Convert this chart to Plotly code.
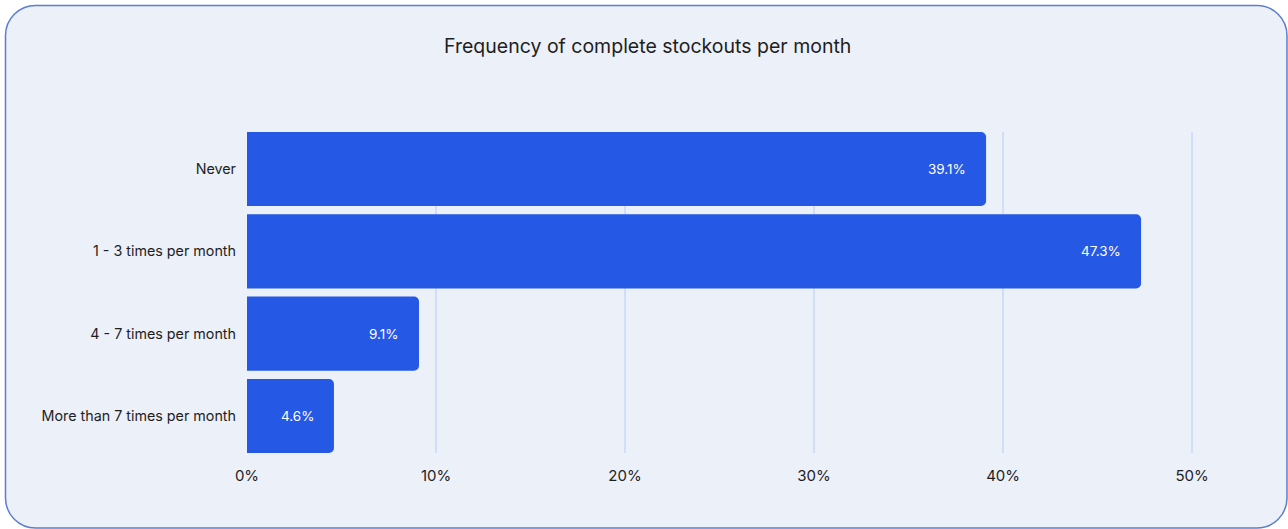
import plotly.graph_objects as go

# Survey responses: how often a complete stockout happens each month
categories = ["Never", "1 - 3 times per month", "4 - 7 times per month", "More than 7 times per month"]
shares = [39.1, 47.3, 9.1, 4.6]
tick_values = [0, 10, 20, 30, 40, 50]
tick_labels = ["0%", "10%", "20%", "30%", "40%", "50%"]
title_text = "Frequency of complete stockouts per month"

W, H = 1288, 529
L, R, T, B = 247, 94, 132, 76
PW, PH = W - L - R, H - T - B
X_MAX = 50.1  # a hair past 50 so the last gridline is drawn

BAR = "#2558E5"
CARD = "#ECF0F9"
EDGE = "#5B7ED0"
GRID = "#D0DEF8"
INK = "#1E1E1E"
FONT = "Inter"


def px(x):
    return (x - L) / PW


def py(y):
    return (H - B - y) / PH


def card_path(x0, y0, x1, y1, r):
    k = 0.5523 * r
    pts = [
        ("M", [(x0 + r, y0)]),
        ("L", [(x1 - r, y0)]),
        ("C", [(x1 - r + k, y0), (x1, y0 + r - k), (x1, y0 + r)]),
        ("L", [(x1, y1 - r)]),
        ("C", [(x1, y1 - r + k), (x1 - r + k, y1), (x1 - r, y1)]),
        ("L", [(x0 + r, y1)]),
        ("C", [(x0 + r - k, y1), (x0, y1 - r + k), (x0, y1 - r)]),
        ("L", [(x0, y0 + r)]),
        ("C", [(x0, y0 + r - k), (x0 + r - k, y0), (x0 + r, y0)]),
    ]
    out = []
    for cmd, coords in pts:
        out.append(cmd + " ".join(f"{px(a):.5f},{py(b):.5f}" for a, b in coords))
    return " ".join(out) + " Z"


fig = go.Figure(
    go.Bar(
        x=shares,
        y=categories,
        orientation="h",
        width=0.9,
        marker=dict(color=BAR, line=dict(width=0)),
        hoverinfo="skip",
    )
)

for cat, val in zip(categories, shares):
    fig.add_annotation(
        x=val, y=cat, xref="x", yref="y",
        text=f"{val:.1f}%", showarrow=False,
        xanchor="right", xshift=-18,
        font=dict(family=FONT, size=13.5, color="white"),
    )

fig.add_shape(
    type="path", xref="paper", yref="paper", layer="below",
    path=card_path(5.5, 5.5, 1287, 528, 30),
    fillcolor=CARD, line=dict(color=EDGE, width=1.5),
)

fig.add_annotation(
    x=px(647), y=py(46), xref="paper", yref="paper",
    text=title_text, showarrow=False,
    xanchor="center", yanchor="middle",
    font=dict(family=FONT, size=19.5, color=INK),
)

fig.update_layout(
    width=W, height=H,
    margin=dict(l=L, r=R, t=T, b=B, pad=0),
    paper_bgcolor="white",
    plot_bgcolor="rgba(0,0,0,0)",
    barcornerradius=5,
    showlegend=False,
    font=dict(family=FONT, color=INK),
    xaxis=dict(
        range=[0, X_MAX],
        tickvals=tick_values,
        ticktext=tick_labels,
        showgrid=True, gridcolor=GRID, gridwidth=1.5,
        zeroline=False, showline=False, ticks="",
        ticklabelstandoff=12,
        tickfont=dict(family=FONT, size=15, color=INK),
        fixedrange=True,
    ),
    yaxis=dict(
        categoryorder="array", categoryarray=categories,
        range=[3.45, -0.45],
        showgrid=False, zeroline=False, showline=False, ticks="",
        ticklabelstandoff=10,
        tickfont=dict(family=FONT, size=14.3, color=INK),
        fixedrange=True,
    ),
)

fig.write_html("out.html", config={"displayModeBar": False})
